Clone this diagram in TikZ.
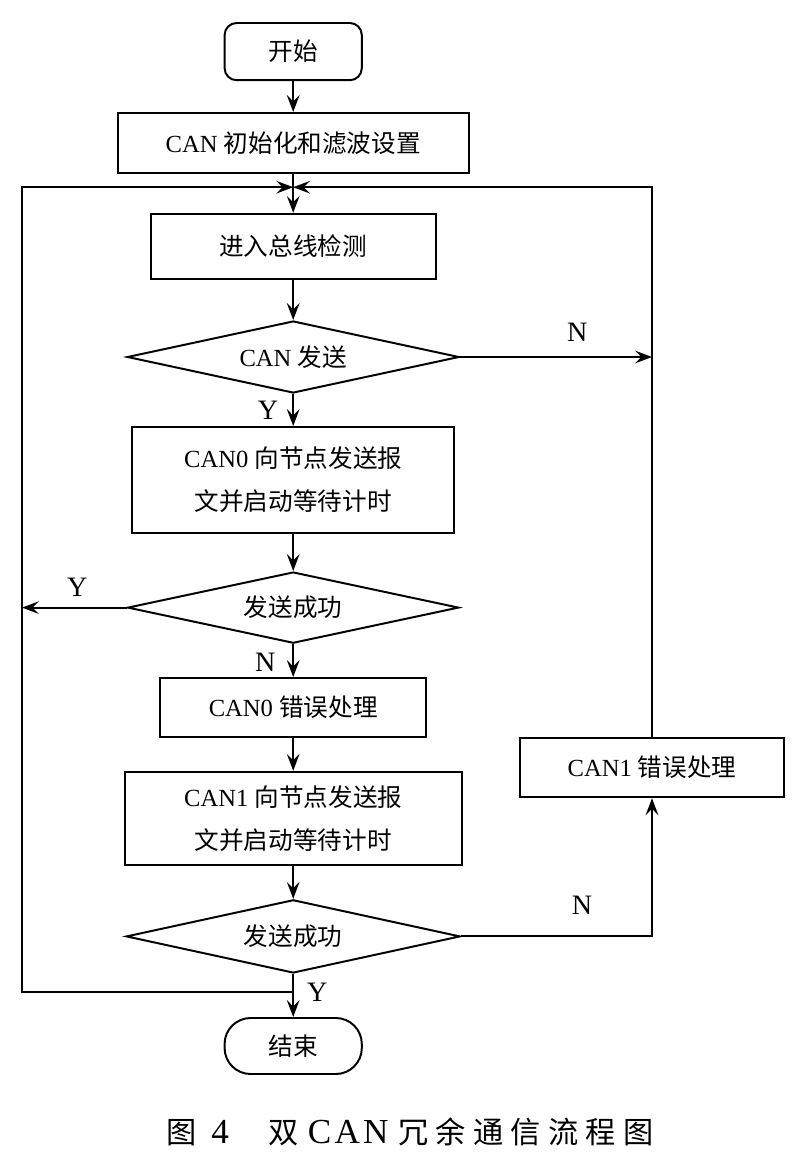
\documentclass[tikz,border=0pt]{standalone}
\usepackage{fontspec}
\setmainfont{Liberation Serif}
\newfontfamily\cjk{Noto Sans CJK SC}
\newfontfamily\cjkwide[LetterSpace=24]{Noto Sans CJK SC}
\usetikzlibrary{positioning, shapes.geometric, arrows.meta}
\tikzset{
    procbox/.style={
        draw, line width=1.4pt, rectangle, inner sep=0pt, align=center,
        font=\fontsize{17.5}{30.5}\selectfont
    },
    decision/.style={
        draw, line width=1.4pt, diamond, aspect=4.6, inner sep=0pt,
        font=\fontsize{17.5}{21}\selectfont
    },
    terminal/.style={
        draw, line width=1.4pt, rectangle, minimum width=3.43cm, inner sep=0pt,
        font=\fontsize{17.5}{21}\selectfont
    },
    flow/.style={
        -{Stealth[length=12pt, width=9pt, inset=4.5pt]}, line width=1.4pt
    },
    yn/.style={
        font=\fontsize{20}{22}\selectfont
    }
}

\begin{document}
\begin{tikzpicture}
    \useasboundingbox (0,0) rectangle (20.1,-29.15);

    \node[terminal, rounded corners=0.3cm, minimum height=1.43cm] (start) at (7.33,-1.29) {\cjk 开始};
    \node[procbox, minimum width=8.78cm, minimum height=1.5cm] (init) at (7.33,-3.575) {CAN {\cjk 初始化和滤波设置}};
    \coordinate (merge) at (7.33,-4.68);
    \node[procbox, minimum width=7.13cm, minimum height=1.63cm] (detect) at (7.33,-6.16) {\cjk 进入总线检测};
    \node[decision, minimum width=8.3cm, minimum height=1.8cm] (dsend) at (7.33,-8.925) {CAN {\cjk 发送}};
    \node[procbox, minimum width=8.05cm, minimum height=2.65cm] (txzero) at (7.33,-12.0) {CAN0 {\cjk 向节点发送报}\\{\cjk 文并启动等待计时}};
    \node[decision, minimum width=8.28cm, minimum height=1.78cm] (okzero) at (7.33,-15.19) {\cjk 发送成功};
    \node[procbox, minimum width=6.65cm, minimum height=1.48cm] (errzero) at (7.33,-17.69) {CAN0 {\cjk 错误处理}};
    \node[procbox, minimum width=8.43cm, minimum height=2.33cm] (txone) at (7.33,-20.46) {CAN1 {\cjk 向节点发送报}\\{\cjk 文并启动等待计时}};
    \node[decision, minimum width=8.35cm, minimum height=1.83cm] (okone) at (7.33,-23.41) {\cjk 发送成功};
    \node[procbox, minimum width=6.58cm, minimum height=1.48cm] (errone) at (16.3,-19.19) {CAN1 {\cjk 错误处理}};
    \node[terminal, rounded corners=0.65cm, minimum height=1.4cm] (stop) at (7.33,-26.15) {\cjk 结束};

    \coordinate (join) at (7.33,-24.8);
    \coordinate (lcorner) at (0.55,-4.68);

    % main column
    \draw[flow] (start) -- (init);
    \draw[flow] (init) -- (detect);
    \draw[flow] (detect) -- (dsend);
    \draw[flow] (dsend) -- (txzero);
    \draw[flow] (txzero) -- (okzero);
    \draw[flow] (okzero) -- (errzero);
    \draw[flow] (errzero) -- (txone);
    \draw[flow] (txone) -- (okone);
    \draw[flow] (okone) -- (stop);

    % loops back to the bus check
    \draw[flow] (dsend.east) -- (dsend.east -| errone.north);
    \draw[flow] (okzero.west) -- (okzero.west -| lcorner);
    \draw[flow] (okone.east) -| (errone.south);
    \draw[flow] (errone.north) |- (merge);
    \draw[flow] (join) -| (lcorner) -- (merge);

    \node[yn] (nsend) at (14.43,-8.3) {N};
    \node[yn] (ysend) at (6.7,-10.25) {Y};
    \node[yn] (yzero) at (1.93,-14.68) {Y};
    \node[yn] (nzero) at (6.63,-16.55) {N};
    \node[yn] (none) at (14.55,-22.63) {N};
    \node[yn] (yone) at (7.93,-24.8) {Y};

    \node[anchor=west, inner sep=0pt, font=\fontsize{21.5}{24}\selectfont] (caption) at (4.15,-28.3)
        {{\cjk 图}\hspace{0.37cm}{\fontsize{25}{28}\selectfont 4}\hspace{1.0cm}{\cjk 双}\hspace{0.22cm}{\fontsize{25}{28}\selectfont C\hspace{0.08cm}A\hspace{0.08cm}N}\hspace{0.25cm}{\cjkwide 冗余通信流程图}};
\end{tikzpicture}
\end{document}
